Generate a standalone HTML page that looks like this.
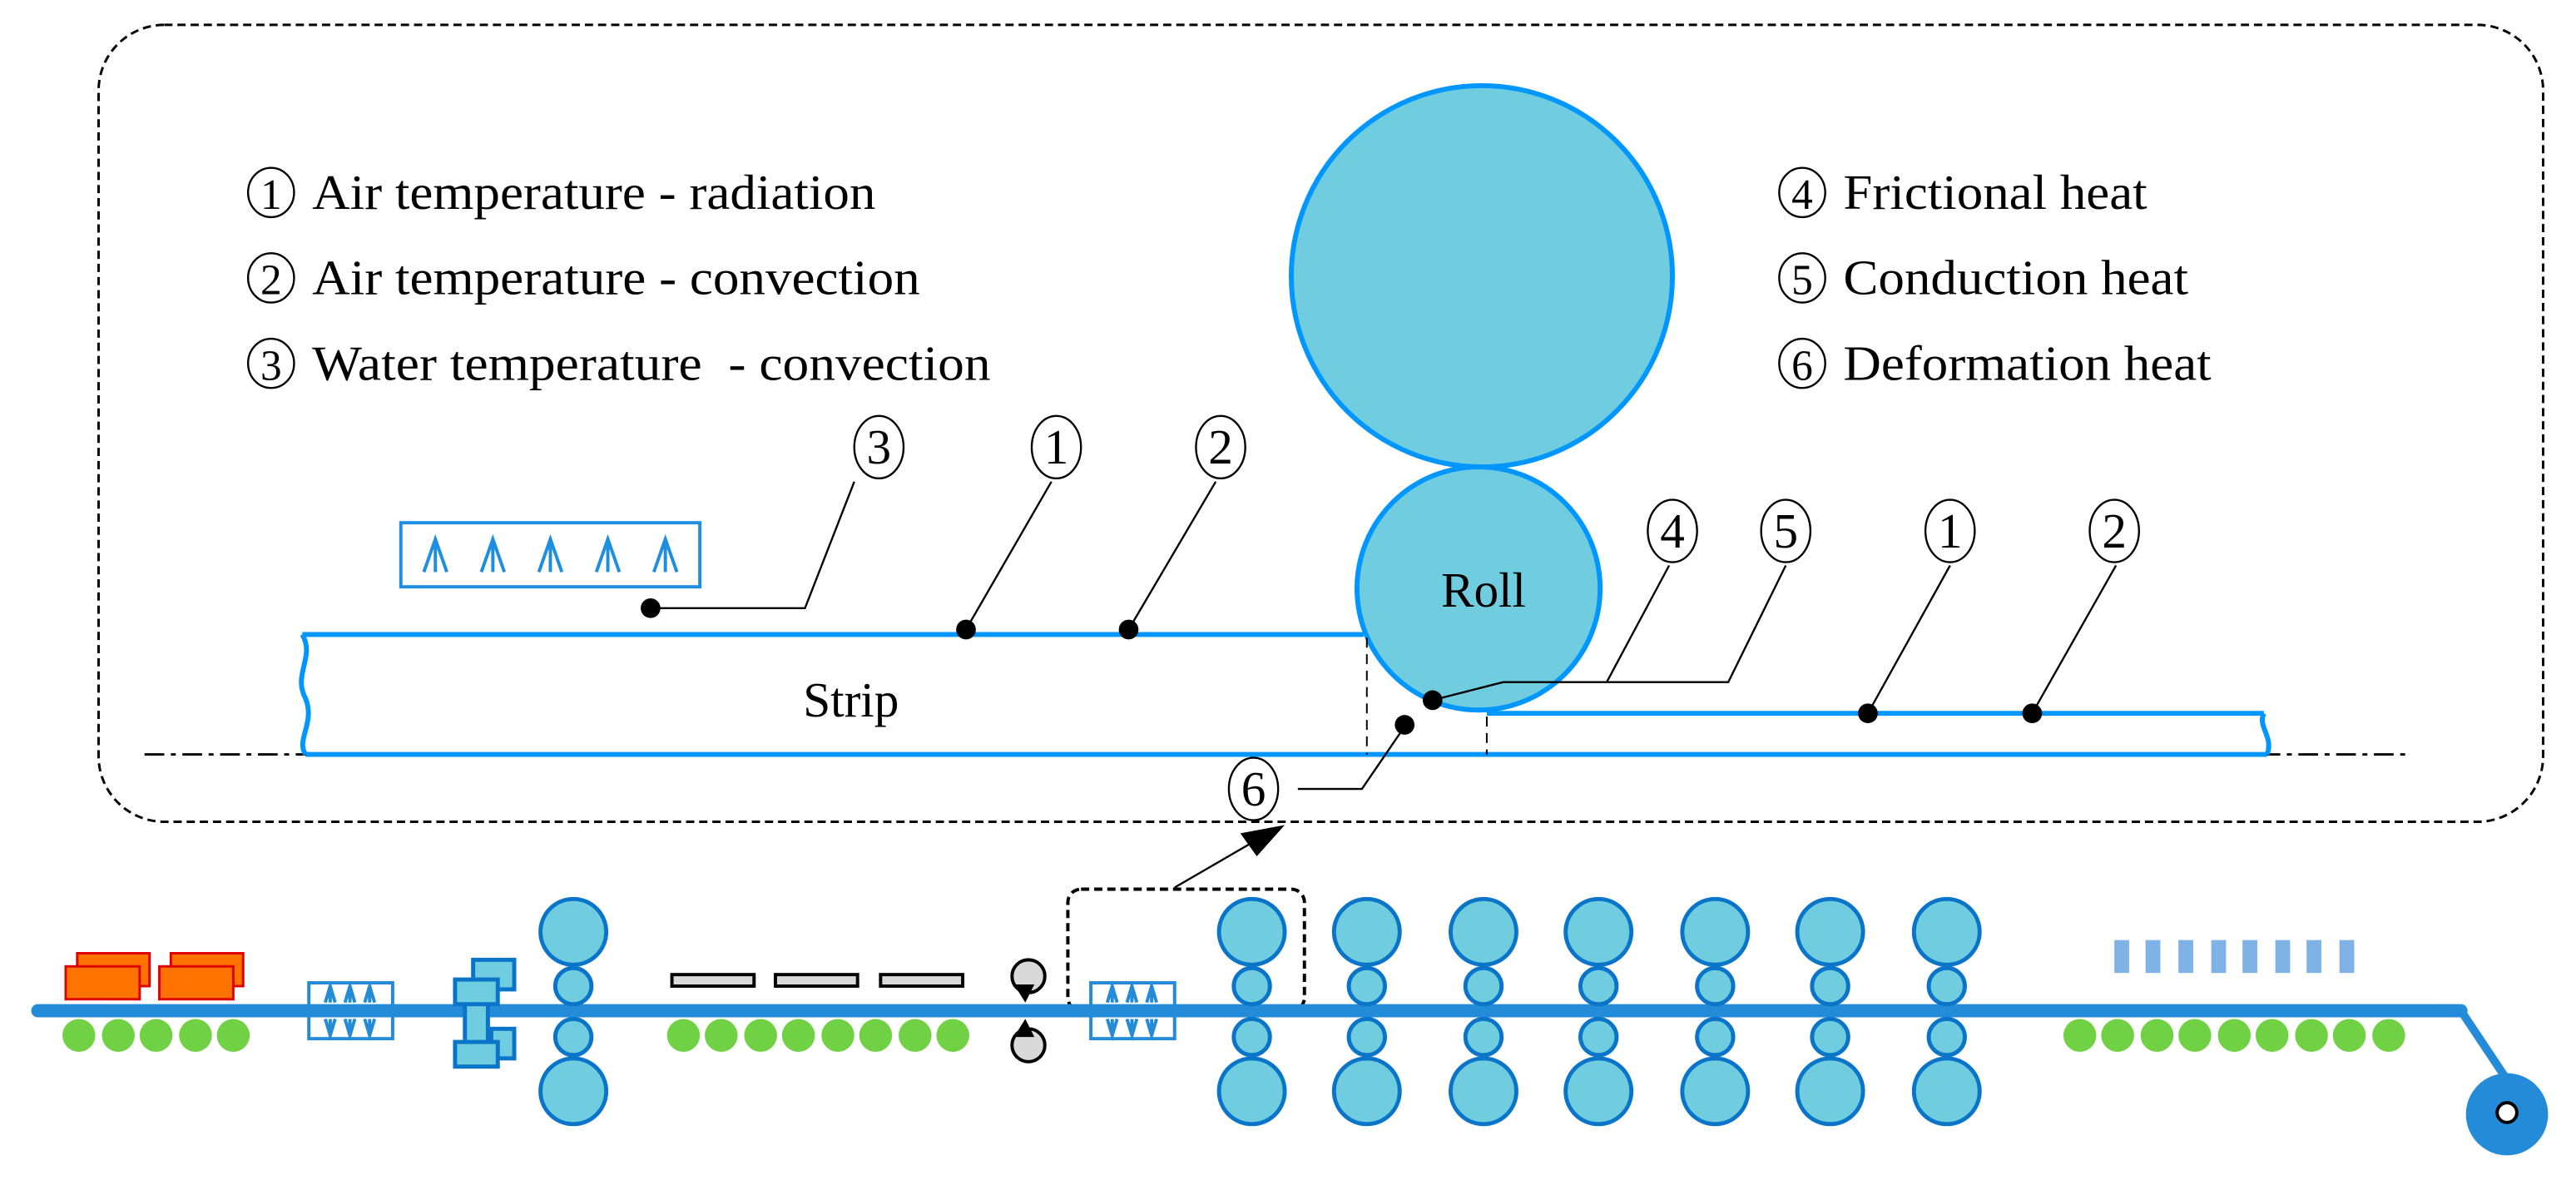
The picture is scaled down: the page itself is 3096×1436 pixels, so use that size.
<!DOCTYPE html>
<html><head><meta charset="utf-8"><style>html,body{margin:0;padding:0;background:#fff}svg{display:block}</style></head>
<body>
<svg width="3096" height="1436" viewBox="0 0 1568 727" xmlns="http://www.w3.org/2000/svg" font-family="Liberation Serif, serif">
<defs>
<g id="cn"><ellipse cx="0" cy="0" rx="15" ry="19" fill="none" stroke="#000" stroke-width="1.2"/></g>
</defs>
<rect x="60" y="15" width="1488" height="485" rx="40" fill="none" stroke="#000" stroke-width="1.5" stroke-dasharray="5,3"/>

<!-- legend -->
<g font-size="30" fill="#000">
<ellipse cx="165" cy="117" rx="14" ry="15" fill="none" stroke="#000" stroke-width="1.2"/><text x="165" y="127" text-anchor="middle" font-size="26">1</text>
<text x="190" y="127" textLength="343" lengthAdjust="spacingAndGlyphs">Air temperature - radiation</text>
<ellipse cx="165" cy="169" rx="14" ry="15" fill="none" stroke="#000" stroke-width="1.2"/><text x="165" y="179" text-anchor="middle" font-size="26">2</text>
<text x="190" y="179" textLength="370" lengthAdjust="spacingAndGlyphs">Air temperature - convection</text>
<ellipse cx="165" cy="221" rx="14" ry="15" fill="none" stroke="#000" stroke-width="1.2"/><text x="165" y="231" text-anchor="middle" font-size="26">3</text>
<text x="190" y="231" xml:space="preserve" textLength="413" lengthAdjust="spacingAndGlyphs">Water temperature  - convection</text>
<ellipse cx="1097" cy="117" rx="14" ry="15" fill="none" stroke="#000" stroke-width="1.2"/><text x="1097" y="127" text-anchor="middle" font-size="26">4</text>
<text x="1122" y="127" textLength="185" lengthAdjust="spacingAndGlyphs">Frictional heat</text>
<ellipse cx="1097" cy="169" rx="14" ry="15" fill="none" stroke="#000" stroke-width="1.2"/><text x="1097" y="179" text-anchor="middle" font-size="26">5</text>
<text x="1122" y="179" textLength="210" lengthAdjust="spacingAndGlyphs">Conduction heat</text>
<ellipse cx="1097" cy="221" rx="14" ry="15" fill="none" stroke="#000" stroke-width="1.2"/><text x="1097" y="231" text-anchor="middle" font-size="26">6</text>
<text x="1122" y="231" textLength="224" lengthAdjust="spacingAndGlyphs">Deformation heat</text>
</g>

<!-- rolls -->
<circle cx="902" cy="168" r="116" fill="#70CDE0" stroke="#0096FF" stroke-width="3"/>
<circle cx="900" cy="358" r="74" fill="#70CDE0" stroke="#0096FF" stroke-width="3"/>
<text x="903" y="369" font-size="30" text-anchor="middle">Roll</text>

<!-- center line -->
<line x1="88" y1="459" x2="1468" y2="459" stroke="#000" stroke-width="1.5" stroke-dasharray="12,4,3,4"/>
<!-- strip -->
<g stroke="#0096FF" stroke-width="3" fill="none">
<line x1="184" y1="386" x2="830" y2="386"/>
<line x1="186" y1="459" x2="1380" y2="459"/>
<line x1="905" y1="434" x2="1378" y2="434"/>
<path d="M184 386 C192 400 178 410 186 425 C192 440 180 450 186 459"/>
<path d="M1378 434 C1374 442 1384 448 1380 459"/>
</g>
<text x="518" y="436" font-size="30" text-anchor="middle">Strip</text>
<g stroke="#000" stroke-width="1" stroke-dasharray="6,4">
<line x1="832" y1="388" x2="832" y2="459"/>
<line x1="905" y1="436" x2="905" y2="459"/>
</g>

<!-- water box -->
<rect x="244" y="318" width="182" height="39" fill="none" stroke="#1E8FE0" stroke-width="2"/>
<g stroke="#1E8FE0" stroke-width="2" fill="none">
<path d="M258 348 L265 328 L272 348 M265 328 V348"/>
<path d="M293 348 L300 328 L307 348 M300 328 V348"/>
<path d="M328 348 L335 328 L342 348 M335 328 V348"/>
<path d="M363 348 L370 328 L377 348 M370 328 V348"/>
<path d="M398 348 L405 328 L412 348 M405 328 V348"/>
</g>

<!-- leaders -->
<g stroke="#000" stroke-width="1.2" fill="none">
<path d="M396 370 H490 L520 293"/>
<path d="M588 383 L640 293"/>
<path d="M687 383 L740 293"/>
<path d="M872 426 L915 415 H1052 L1087 344"/>
<path d="M978 415 L1016 344"/>
<path d="M1137 434 L1187 344"/>
<path d="M1237 434 L1288 344"/>
<path d="M855 442 L829 480 H790"/>
</g>
<g fill="#000">
<circle cx="396" cy="370" r="6"/><circle cx="588" cy="383" r="6"/><circle cx="687" cy="383" r="6"/>
<circle cx="872" cy="426" r="6"/><circle cx="855" cy="441" r="6"/>
<circle cx="1137" cy="434" r="6"/><circle cx="1237" cy="434" r="6"/>
</g>
<g font-size="30" text-anchor="middle">
<use href="#cn" x="535" y="272"/><text x="535" y="282">3</text>
<use href="#cn" x="643" y="272"/><text x="643" y="282">1</text>
<use href="#cn" x="743" y="272"/><text x="743" y="282">2</text>
<use href="#cn" x="1018" y="323"/><text x="1018" y="333">4</text>
<use href="#cn" x="1087" y="323"/><text x="1087" y="333">5</text>
<use href="#cn" x="1187" y="323"/><text x="1187" y="333">1</text>
<use href="#cn" x="1287" y="323"/><text x="1287" y="333">2</text>
<use href="#cn" x="763" y="480"/><text x="763" y="490">6</text>
</g>

<!-- arrow -->
<line x1="715" y1="540" x2="765" y2="511" stroke="#000" stroke-width="1.2"/>
<polygon points="782,502 755,507 765,521" fill="#000"/>
<rect x="650" y="541" width="144" height="74" rx="8" fill="none" stroke="#000" stroke-width="2" stroke-dasharray="5,3"/>

<!-- bottom line -->
<line x1="23" y1="615" x2="1498" y2="615" stroke="#248BD8" stroke-width="8" stroke-linecap="round"/>
<line x1="1498" y1="615" x2="1528" y2="660" stroke="#248BD8" stroke-width="5"/>
<circle cx="1526" cy="678" r="25" fill="#248BD8"/>
<circle cx="1526" cy="677" r="6" fill="#fff" stroke="#000" stroke-width="2"/>

<!-- orange -->
<g fill="#FF7300" stroke="#E00000" stroke-width="1.5">
<rect x="47" y="580" width="44" height="20"/><rect x="40" y="588" width="45" height="20"/>
<rect x="104" y="580" width="44" height="20"/><rect x="97" y="588" width="45" height="20"/>
</g>

<!-- greens -->
<g fill="#71D144">
<circle cx="48" cy="630" r="10"/><circle cx="72" cy="630" r="10"/><circle cx="95" cy="630" r="10"/><circle cx="119" cy="630" r="10"/><circle cx="142" cy="630" r="10"/>
<circle cx="416" cy="630" r="10"/><circle cx="439" cy="630" r="10"/><circle cx="463" cy="630" r="10"/><circle cx="486" cy="630" r="10"/><circle cx="510" cy="630" r="10"/><circle cx="533" cy="630" r="10"/><circle cx="557" cy="630" r="10"/><circle cx="580" cy="630" r="10"/>
<circle cx="1266" cy="630" r="10"/><circle cx="1289" cy="630" r="10"/><circle cx="1313" cy="630" r="10"/><circle cx="1336" cy="630" r="10"/><circle cx="1360" cy="630" r="10"/><circle cx="1383" cy="630" r="10"/><circle cx="1407" cy="630" r="10"/><circle cx="1430" cy="630" r="10"/><circle cx="1454" cy="630" r="10"/>
</g>

<!-- spray boxes -->
<g stroke="#248BD8" stroke-width="2" fill="none">
<rect x="188" y="598" width="51" height="34"/>
<rect x="664" y="598" width="51" height="34"/>
<path d="M198 610 L201 600 L204 610 M201 600V610 M210 610 L213 600 L216 610 M213 600V610 M222 610 L225 600 L228 610 M225 600V610"/>
<path d="M198 620 L201 630 L204 620 M201 630V620 M210 620 L213 630 L216 620 M213 630V620 M222 620 L225 630 L228 620 M225 630V620"/>
<path d="M674 610 L677 600 L680 610 M677 600V610 M686 610 L689 600 L692 610 M689 600V610 M698 610 L701 600 L704 610 M701 600V610"/>
<path d="M674 620 L677 630 L680 620 M677 630V620 M686 620 L689 630 L692 620 M689 630V620 M698 620 L701 630 L704 620 M701 630V620"/>
</g>

<!-- edger -->
<g fill="#70CDE0" stroke="#0A75C8" stroke-width="2.5">
<rect x="288" y="584" width="25" height="18"/>
<rect x="299" y="626" width="14" height="18"/>
<rect x="283" y="598" width="14" height="44"/>
<rect x="277" y="596" width="26" height="15"/>
<rect x="277" y="634" width="26" height="15"/>
</g>

<!-- stands -->
<g fill="#70CDE0" stroke="#0A75C8" stroke-width="2.5" id="st">
<circle cx="349" cy="567" r="20"/><circle cx="349" cy="600" r="11"/><circle cx="349" cy="631" r="11"/><circle cx="349" cy="664" r="20"/>
</g>
<use href="#st" x="413"/><use href="#st" x="483"/><use href="#st" x="554"/><use href="#st" x="624"/><use href="#st" x="695"/><use href="#st" x="765"/><use href="#st" x="836"/>

<!-- gray bars -->
<g fill="#D9D9D9" stroke="#000" stroke-width="2">
<rect x="409" y="593" width="50" height="7"/><rect x="472" y="593" width="50" height="7"/><rect x="536" y="593" width="50" height="7"/>
</g>
<!-- shear -->
<g fill="#D9D9D9" stroke="#000" stroke-width="2">
<circle cx="626" cy="594" r="10"/><circle cx="626" cy="636" r="10"/>
<polygon points="619,600 624,608 628,600" fill="#000"/>
<polygon points="619,630 624,622 628,630" fill="#000"/>
</g>

<!-- blue bars -->
<g fill="#7FB2E5">
<rect x="1287" y="572" width="9" height="20"/><rect x="1306" y="572" width="9" height="20"/><rect x="1326" y="572" width="9" height="20"/><rect x="1346" y="572" width="9" height="20"/><rect x="1365" y="572" width="9" height="20"/><rect x="1385" y="572" width="9" height="20"/><rect x="1404" y="572" width="9" height="20"/><rect x="1424" y="572" width="9" height="20"/>
</g>
</svg>
</body></html>
